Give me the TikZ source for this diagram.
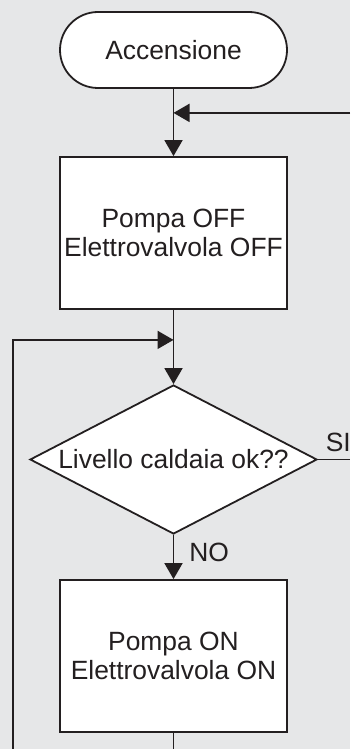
\documentclass[tikz,border=0pt]{standalone}
\usepackage{fontspec}
\setmainfont{Liberation Sans}
\usetikzlibrary{positioning,shapes.geometric,arrows.meta}
\definecolor{sfondo}{HTML}{E6E7E8}
\definecolor{tratto}{HTML}{231F20}
\begin{document}
\begin{tikzpicture}[term/.style = {draw, fill=white, rounded corners=19pt, minimum width=113.5pt, minimum height=38pt},
    blocco/.style = {draw, fill=white, minimum width=113.5pt, minimum height=76pt, inner sep=1pt, align=center},
    rombo/.style = {draw, fill=white, diamond, aspect=1.93, minimum width=143.5pt, minimum height=74.5pt, inner sep=0pt},
    etic/.style = {inner sep=0pt},
    freccia/.style = {-{Triangle[length=8pt,width=9pt]}},
    every node/.style = {text=tratto, font=\fontsize{13.2}{14.2}\selectfont},
    line width=0.9pt, draw=tratto]
    \fill[sfondo] (0,0) rectangle (175pt,-374.5pt);
    \useasboundingbox (0,0) rectangle (175pt,-374.5pt);

    \node[term] (acc) at (86.75pt,-25pt) {Accensione};
    \node[blocco] (off) [below of=acc, node distance=91.5pt] {Pompa OFF\\Elettrovalvola OFF};
    \node[rombo] (liv) [below of=off, node distance=113.25pt] {Livello caldaia ok??};
    \node[blocco] (on) [below of=liv, node distance=98.25pt] {Pompa ON\\Elettrovalvola ON};

    \coordinate[below=12pt of acc.south] (j1);
    \coordinate[right=88.25pt of j1] (dx);
    \coordinate[below=15pt of off.south] (j2);
    \coordinate[left=80.25pt of j2] (sx);
    \coordinate[below=8.5pt of on.south] (fine);
    \coordinate (fuori) at (175pt,0 |- liv.east);

    \node[etic] (si) [above right=3.25pt and 3.5pt of liv.east] {SI};
    \node[etic] (no) [below right=3.85pt and 7.5pt of liv.south] {NO};

    \draw[freccia] (acc) -- (off);
    \draw[freccia] (dx) -- (j1);
    \draw[freccia] (off) -- (liv);
    \draw[freccia] (sx |- fine) -- (sx) -- (j2);
    \draw (liv.east) -- (fuori);
    \draw[freccia] (liv) -- (on);
    \draw (on) -- (fine);
\end{tikzpicture}
\end{document}
